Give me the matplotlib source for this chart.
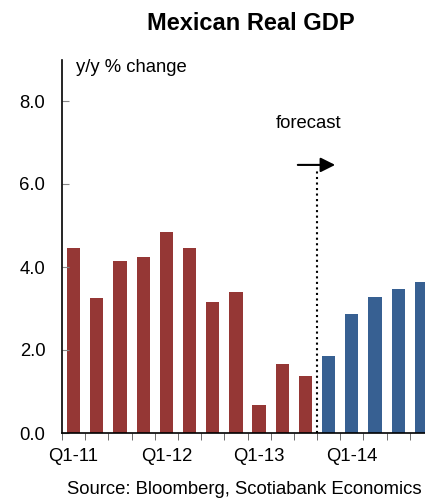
import matplotlib.pyplot as plt
import numpy as np

plt.rcParams['font.family'] = ['Liberation Sans', 'DejaVu Sans']

# y/y % change, Q1-11 to Q4-14
quarters = ['Q1-11', 'Q2-11', 'Q3-11', 'Q4-11',
            'Q1-12', 'Q2-12', 'Q3-12', 'Q4-12',
            'Q1-13', 'Q2-13', 'Q3-13', 'Q4-13',
            'Q1-14', 'Q2-14', 'Q3-14', 'Q4-14']
actual = [4.46, 3.25, 4.14, 4.24, 4.84, 4.46, 3.16, 3.40, 0.67, 1.66, 1.37]
forecast = [1.86, 2.87, 3.27, 3.47, 3.65]
tick_labels = ['Q1-11', 'Q1-12', 'Q1-13', 'Q1-14']

red = '#953735'
blue = '#376092'
fs = 13.3

fig = plt.figure(figsize=(4.25, 5), dpi=100)
ax = fig.add_axes([62 / 425, 67 / 500, 371 / 425, 373.5 / 500])

n_act = len(actual)
x_act = np.arange(n_act) + 0.5
x_fc = np.arange(n_act, n_act + len(forecast)) + 0.5
ax.bar(x_act, actual, width=0.57, color=red)
ax.bar(x_fc, forecast, width=0.57, color=blue)

ax.set_xlim(0, len(quarters))
ax.set_ylim(0, 9)

# category boundaries get tick marks, labels sit under every 4th bar
ax.set_xticks(np.arange(len(quarters) + 1), minor=True)
ax.set_xticks([quarters.index(q) + 0.5 for q in tick_labels])
ax.set_xticklabels(tick_labels, fontsize=fs)
ax.tick_params(axis='x', which='major', length=0, pad=11)
ax.tick_params(axis='x', which='minor', length=5, direction='out', color='#555555')

ax.set_yticks([0, 2, 4, 6, 8])
ax.set_yticklabels(['%.1f' % v for v in [0, 2, 4, 6, 8]], fontsize=fs)
ax.tick_params(axis='y', length=5, direction='in', color='#888888', pad=12)

for side in ['top', 'right']:
    ax.spines[side].set_visible(False)
for side in ['left', 'bottom']:
    ax.spines[side].set_linewidth(1.2)

# forecast divider
ax.plot([n_act, n_act], [0, 6.34], color='black', linestyle=':', lw=1.5, clip_on=False)
ax.annotate('', xy=(11.9, 6.46), xytext=(10.05, 6.46),
            arrowprops=dict(arrowstyle='-|>', mutation_scale=22, lw=1.5, color='black'))
ax.text(10.65, 7.45, 'forecast', fontsize=fs, ha='center', va='center')

fig.text(76 / 425, 432 / 500, 'y/y % change', fontsize=fs, ha='left', va='center')
fig.text(251 / 425, 477 / 500, 'Mexican Real GDP', fontsize=17, fontweight='bold',
         ha='center', va='center')
fig.text(422 / 425, 10 / 500, 'Source: Bloomberg, Scotiabank Economics', fontsize=fs,
         ha='right', va='center')

fig.savefig('out.png', dpi=100)
